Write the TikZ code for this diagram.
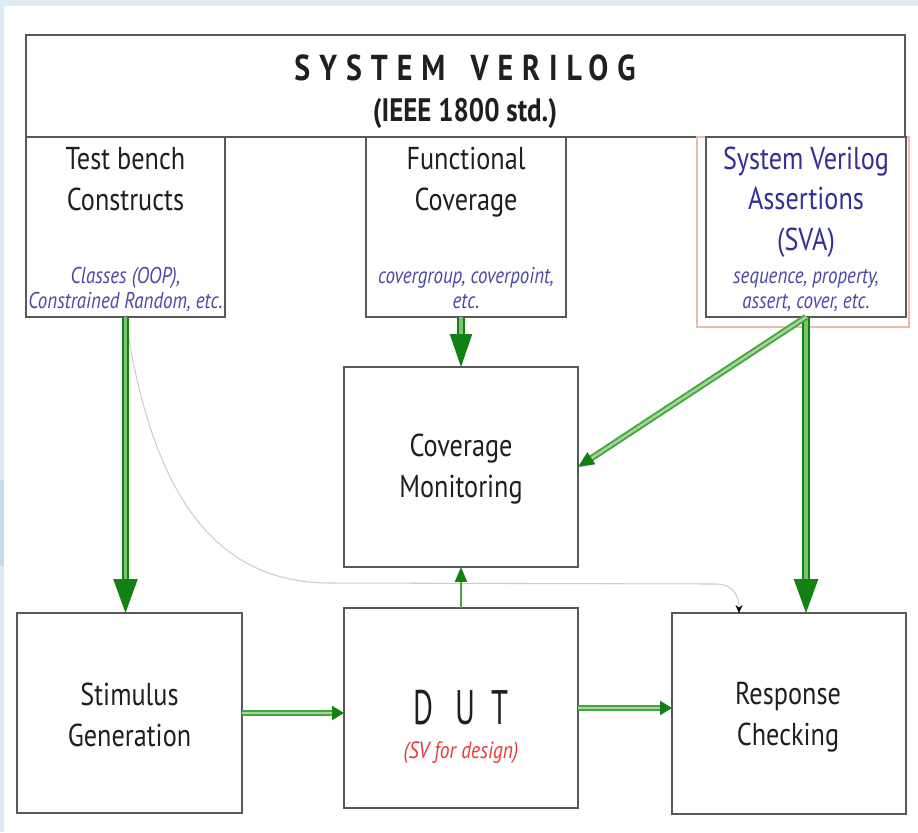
\documentclass[tikz,border=0pt]{standalone}
\usepackage{fontspec}
\setmainfont{PT Sans}[FakeStretch=0.83]
\usetikzlibrary{arrows.meta}
\definecolor{grauRand}{RGB}{88,88,88}
\definecolor{lachsRand}{RGB}{236,186,170}
\definecolor{gruenDunkel}{RGB}{18,128,18}
\definecolor{gruenHell}{RGB}{122,196,112}
\definecolor{gruenLinie}{RGB}{70,165,62}
\definecolor{blauSchrift}{RGB}{52,46,150}
\definecolor{blauNotiz}{RGB}{78,70,168}
\definecolor{rotNotiz}{RGB}{232,58,58}
\definecolor{hintergrund}{RGB}{222,234,245}
\definecolor{hintergrundRand}{RGB}{196,218,238}
\tikzstyle{block} = [draw=grauRand,line width=1.1pt,rectangle,inner sep=0pt,outer sep=0pt]
\tikzstyle{label} = [inner sep=0pt,anchor=base,align=center,text=black!88,font=\fontsize{18}{22.8}\selectfont]
\tikzstyle{notiz} = [inner sep=0pt,anchor=base,align=center,text=blauNotiz,font=\itshape\fontsize{13}{14.2}\selectfont]
\tikzstyle{flow} = [draw=gruenDunkel,double=gruenHell,double distance=1.8pt,line width=1.3pt]
\tikzstyle{flow'} = [draw=gruenLinie,double=gruenHell!70,double distance=1.4pt,line width=1.1pt]
\tikzstyle{hinweis} = [draw=black!20,line width=0.6pt]

\begin{document}
\begin{tikzpicture}[x=0.02cm,y=-0.02cm]
\useasboundingbox (0,0) rectangle (918,832);
\fill[hintergrund] (0,0) rectangle (918,832);
\fill[hintergrundRand] (0,480) rectangle (4,566);
\fill[white] (4,6) rectangle (918,832);

% top row
\node[block,minimum width=17.58cm,minimum height=2.04cm] (SV) at (465.5,86) {};
\node[label,font=\bfseries\fontsize{20.5}{24}\selectfont\addfontfeatures{LetterSpace=25}] (SVtitel) at (465,80) {SYSTEM\hspace{0.7em}VERILOG};
\node[label,font=\bfseries\fontsize{18.5}{20}\selectfont] (SVstd) at (465,121) {(IEEE 1800 std.)};

\node[draw=lachsRand,line width=0.8pt,inner sep=0pt,minimum width=4.24cm,minimum height=3.8cm] (SVAglow) at (803,232) {};
\node[block,minimum width=3.98cm,minimum height=3.6cm] (TB) at (125.5,227) {};
\node[block,minimum width=4cm,minimum height=3.6cm] (FC) at (466,227) {};
\node[block,minimum width=4cm,minimum height=3.6cm] (SVA) at (806,227) {};

% anchor=base lies on the last line
\node[label] (TBtext) at (125.5,210) {Test bench\\Constructs};
\node[notiz] (TBnotiz) at (125.5,308) {Classes (OOP),\\Constrained Random, etc.};
\node[label] (FCtext) at (466,210) {Functional\\Coverage};
\node[notiz] (FCnotiz) at (466,308) {covergroup, coverpoint,\\etc.};
\node[label,text=blauSchrift] (SVAtext) at (806,250) {System Verilog\\Assertions\\(SVA)};
\node[notiz] (SVAnotiz) at (806,308) {sequence, property,\\assert, cover, etc.};

% middle
\node[block,minimum width=4.68cm,minimum height=4cm] (CM) at (461,467) {};
\node[label] (CMtext) at (461,497) {Coverage\\Monitoring};

% bottom row
\node[block,minimum width=4.5cm,minimum height=4cm] (ST) at (129.5,713) {};
\node[label] (STtext) at (129.5,746) {Stimulus\\Generation};
\node[block,minimum width=4.68cm,minimum height=4cm] (DUT) at (461,708) {};
\node[label,font=\fontsize{27.6}{30}\selectfont] (DUTtext) at (461,724) {\scalebox{0.76}[1]{D\hspace{0.6em}U\hspace{0.45em}T}};
\node[notiz,text=rotNotiz,font=\itshape\fontsize{13.4}{15}\selectfont] (DUTnotiz) at (461,758) {(SV for design)};
\node[block,minimum width=4.68cm,minimum height=4.02cm] (RC) at (789,713.5) {};
\node[label] (RCtext) at (788,745) {Response\\Checking};

\coordinate (RCende) at (739,613);

% thin hint from test bench to checker
\draw[hinweis,-{Stealth[length=4.5pt,width=4pt,color=black]}] (TB.south) .. controls +(25,170) and +(-120,0) .. (330,583) -- (715,584) .. controls +(18,0) and +(0,-18) .. (RCende);

% green flows
\draw[flow,-{Triangle[length=0.68cm,width=0.48cm]}] (TB.south) -- (TB.south |- ST.north);
\draw[flow,-{Triangle[length=0.66cm,width=0.44cm]}] (FC.south -| CM.north) -- (CM.north);
\draw[flow,-{Triangle[length=0.68cm,width=0.48cm]}] (SVA.south) -- (SVA.south |- RC.north);
\draw[flow',-{Triangle[length=0.32cm,width=0.28cm,color=gruenDunkel]}] (SVA.south) -- (CM.east);
\draw[flow',-{Triangle[length=0.24cm,width=0.28cm,color=gruenDunkel]}] (ST.east) -- (ST.east -| DUT.west);
\draw[flow',-{Triangle[length=0.24cm,width=0.28cm,color=gruenDunkel]}] (DUT.east) -- (DUT.east -| RC.west);
\draw[draw=gruenLinie,line width=1.3pt,-{Triangle[length=0.3cm,width=0.24cm,color=gruenDunkel]}] (DUT.north) -- (CM.south);
\end{tikzpicture}
\end{document}
